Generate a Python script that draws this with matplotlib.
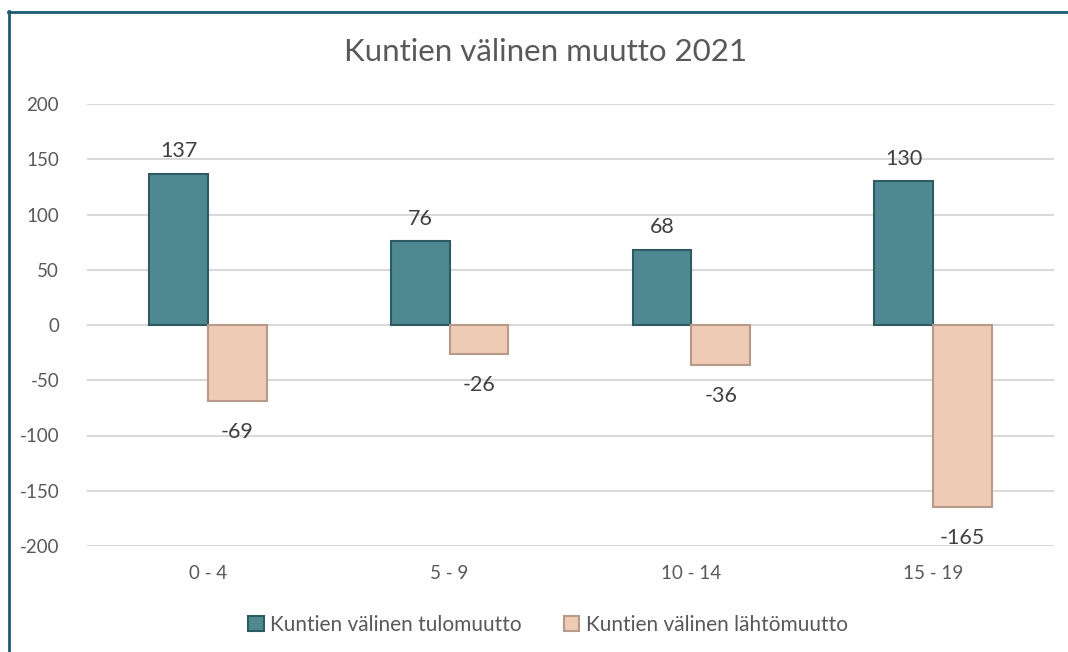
import matplotlib.pyplot as plt
import numpy as np

categories = ["0 - 4", "5 - 9", "10 - 14", "15 - 19"]
tulo = [137, 76, 68, 130]
lahto = [-69, -26, -36, -165]
series_names = ["Kuntien välinen tulomuutto", "Kuntien välinen lähtömuutto"]
title = "Kuntien välinen muutto 2021"

TEAL = "#4e8890"
TEAL_EDGE = "#2f5a62"
PEACH = "#efcbb6"
PEACH_EDGE = "#b89a8b"
TXT = "#595959"
GRID = "#d9d9d9"

plt.rcParams["font.family"] = ["Lato", "DejaVu Sans"]
plt.rcParams["axes.unicode_minus"] = False

fig = plt.figure(figsize=(10.68, 6.52), dpi=100)
ax = fig.add_axes([87 / 1068, 1 - 546 / 652, (1054 - 87) / 1068, (546 - 104) / 652])

x = np.arange(len(categories))
w = 0.243
ax.bar(x - w / 2, tulo, w, color=TEAL, edgecolor=TEAL_EDGE, linewidth=1.5, zorder=3,
       label=series_names[0])
ax.bar(x + w / 2, lahto, w, color=PEACH, edgecolor=PEACH_EDGE, linewidth=1.5, zorder=3,
       label=series_names[1])

for i in range(len(categories)):
    ax.annotate(str(tulo[i]), (x[i] - w / 2, tulo[i]), xytext=(0, 9), textcoords="offset points",
                ha="center", va="bottom", fontsize=15.5, color="#404040")
    ax.annotate(str(lahto[i]), (x[i] + w / 2, lahto[i]), xytext=(0, -15), textcoords="offset points",
                ha="center", va="top", fontsize=15.5, color="#404040")

ax.set_xlim(-0.5, len(categories) - 0.5)
ax.set_ylim(-200, 200)
ax.set_yticks(range(-200, 201, 50))
ax.set_xticks(x)
ax.set_xticklabels(categories)
ax.grid(axis="y", color=GRID, linewidth=1.5, zorder=0)
for s in ax.spines.values():
    s.set_visible(False)
ax.tick_params(length=0, colors=TXT, labelsize=13.5)
ax.tick_params(axis="y", pad=20)
ax.tick_params(axis="x", pad=14)

fig.text(0.511, 1 - 52 / 652, title, ha="center", va="center", fontsize=22.5, color=TXT)

leg = fig.legend(loc="center", bbox_to_anchor=(548 / 1068, 1 - 625 / 652), ncol=2, frameon=False,
                 fontsize=15, handlelength=0.75, handleheight=0.75, handletextpad=0.3,
                 columnspacing=2.0, labelcolor=TXT)

# outer border of the chart box
fig.add_artist(plt.Line2D([8.5 / 1068, 8.5 / 1068], [0, 1 - 11 / 652], color="#1f5b70",
                          linewidth=2, transform=fig.transFigure))
fig.add_artist(plt.Line2D([8 / 1068, 1], [1 - 12 / 652, 1 - 12 / 652], color="#1f5b70",
                          linewidth=2, transform=fig.transFigure))

fig.savefig("out.png", dpi=100, facecolor="white")
